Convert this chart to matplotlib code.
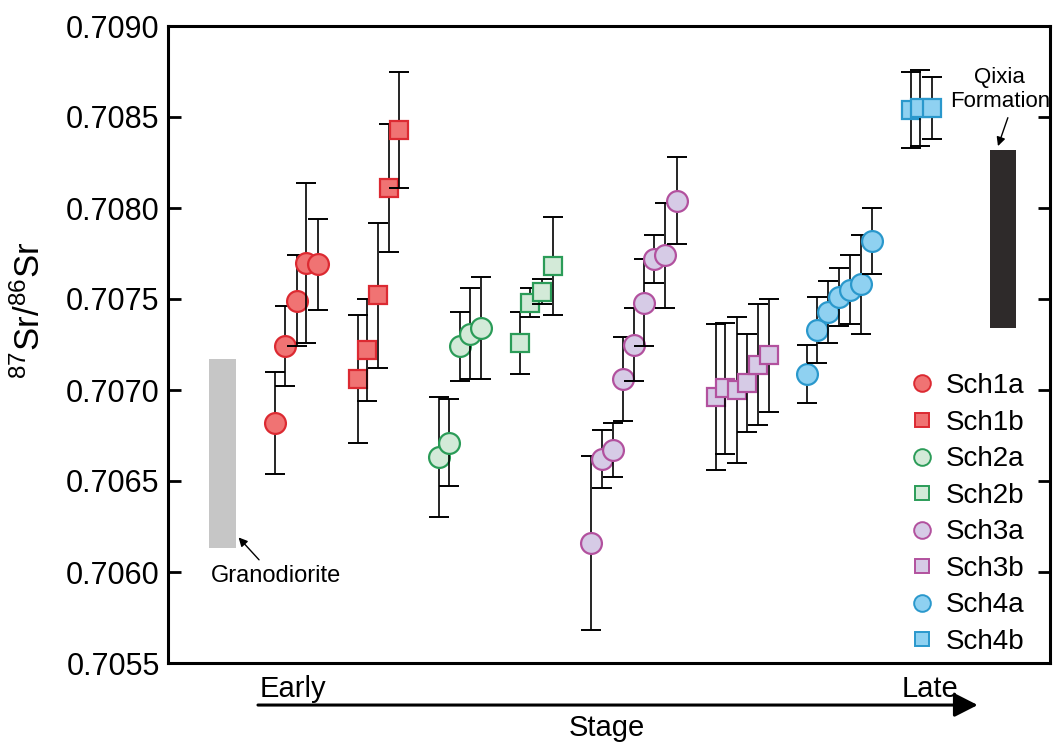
import matplotlib.pyplot as plt
from matplotlib.lines import Line2D

plt.rcParams['font.family'] = ['Liberation Sans', 'DejaVu Sans']
plt.rcParams['mathtext.default'] = 'regular'

# stage position (arbitrary units, early -> late), 87Sr/86Sr and 2 sigma error
sch1a_x = [12.1, 13.3, 14.6, 15.7, 17.0]
sch1a_y = [0.70682, 0.70724, 0.70749, 0.70770, 0.70769]
sch1a_e = [0.00028, 0.00022, 0.00025, 0.00044, 0.00025]

sch1b_x = [21.5, 22.6, 23.8, 25.1, 26.2]
sch1b_y = [0.70706, 0.70722, 0.70752, 0.70811, 0.70843]
sch1b_e = [0.00035, 0.00028, 0.00040, 0.00035, 0.00032]

sch2a_x = [30.7, 31.9, 33.1, 34.2, 35.5]
sch2a_y = [0.70663, 0.70671, 0.70724, 0.70731, 0.70734]
sch2a_e = [0.00033, 0.00024, 0.00019, 0.00025, 0.00028]

sch2b_x = [39.9, 41.0, 42.4, 43.6]
sch2b_y = [0.70726, 0.70748, 0.70754, 0.70768]
sch2b_e = [0.00017, 0.00008, 0.00007, 0.00027]

sch3a_x = [48.0, 49.2, 50.4, 51.6, 52.8, 54.0, 55.1, 56.4, 57.7]
sch3a_y = [0.70616, 0.70662, 0.70667, 0.70706, 0.70725, 0.70748, 0.70772, 0.70774, 0.70804]
sch3a_e = [0.00048, 0.00016, 0.00015, 0.00023, 0.00020, 0.00024, 0.00013, 0.00029, 0.00024]

sch3b_x = [62.1, 63.2, 64.5, 65.7, 66.9, 68.1]
sch3b_y = [0.70696, 0.70701, 0.70700, 0.70704, 0.70714, 0.70719]
sch3b_e = [0.00040, 0.00036, 0.00040, 0.00027, 0.00033, 0.00031]

sch4a_x = [72.5, 73.6, 74.8, 76.1, 77.3, 78.6, 79.8]
sch4a_y = [0.70709, 0.70733, 0.70743, 0.70751, 0.70755, 0.70758, 0.70782]
sch4a_e = [0.00016, 0.00018, 0.00017, 0.00016, 0.00019, 0.00027, 0.00018]

sch4b_x = [84.2, 85.3, 86.6]
sch4b_y = [0.70854, 0.70855, 0.70855]
sch4b_e = [0.00021, 0.00021, 0.00017]

# reference ranges
grano_x = [4.7, 7.7]
grano_y = [0.70613, 0.70717]
qixia_x = [93.2, 96.2]
qixia_y = [0.70734, 0.70832]

red = ('#f07373', '#dc2a32')
green = ('#d3ead8', '#2b9c58')
purple = ('#d6cbe6', '#b2519e')
blue = ('#8fd1f1', '#2a98cc')

groups = [
    ('Sch1a', sch1a_x, sch1a_y, sch1a_e, 'o', red),
    ('Sch1b', sch1b_x, sch1b_y, sch1b_e, 's', red),
    ('Sch2a', sch2a_x, sch2a_y, sch2a_e, 'o', green),
    ('Sch2b', sch2b_x, sch2b_y, sch2b_e, 's', green),
    ('Sch3a', sch3a_x, sch3a_y, sch3a_e, 'o', purple),
    ('Sch3b', sch3b_x, sch3b_y, sch3b_e, 's', purple),
    ('Sch4a', sch4a_x, sch4a_y, sch4a_e, 'o', blue),
    ('Sch4b', sch4b_x, sch4b_y, sch4b_e, 's', blue),
]

fig = plt.figure(figsize=(10.57, 7.45), dpi=100)
ax = fig.add_axes([168 / 1057, 82 / 745, 882 / 1057, 637 / 745])

# each point drawn on its own so later error bars sit over earlier symbols
z = 3
handles = []
for name, xs, ys, es, mk, (fc, ec) in groups:
    ms = 15 if mk == 'o' else 13
    for x, y, e in zip(xs, ys, es):
        ax.errorbar(x, y, yerr=e, fmt='none', ecolor='black', elinewidth=1.2,
                    capsize=7, capthick=1.4, zorder=z)
        ax.plot(x, y, marker=mk, ms=ms, mfc=fc, mec=ec, mew=1.6, ls='none', zorder=z + 1)
        z += 2
    handles.append(Line2D([], [], marker=mk, ls='none', ms=12 if mk == 'o' else 10.5,
                          mfc=fc, mec=ec, mew=1.4, label=name))

ax.fill_between(grano_x, grano_y[0], grano_y[1], color='#c6c6c6', lw=0, zorder=1)
ax.fill_between(qixia_x, qixia_y[0], qixia_y[1], color='#2e2a2a', lw=0, zorder=1)

ax.annotate('Granodiorite', xy=(8.0, 0.70619), xytext=(12.3, 0.70598),
            ha='center', va='center', fontsize=17,
            arrowprops=dict(arrowstyle='-|>', color='black', lw=1.0,
                            shrinkB=0, mutation_scale=13, relpos=(0.4, 1.0)))
ax.annotate('Qixia\nFormation', xy=(94.1, 0.70834), xytext=(94.3, 0.70865),
            ha='center', va='center', fontsize=16, annotation_clip=False,
            arrowprops=dict(arrowstyle='-|>', color='black', lw=1.0,
                            shrinkB=0, mutation_scale=13, relpos=(0.6, 0.0)))

ax.set_xlim(0, 100)
ax.set_ylim(0.7055, 0.7090)
ax.set_yticks([0.7055, 0.7060, 0.7065, 0.7070, 0.7075, 0.7080, 0.7085, 0.7090])
ax.yaxis.set_major_formatter(plt.FormatStrFormatter('%.4f'))
ax.set_xticks([])
ax.tick_params(axis='y', direction='in', length=9, width=2, labelsize=22, pad=6,
               right=True)
for sp in ax.spines.values():
    sp.set_linewidth(2.2)

ax.legend(handles=handles, loc='lower right', bbox_to_anchor=(0.993, -0.018),
          frameon=False, fontsize=20, handlelength=0.9, handletextpad=0.4,
          labelspacing=0.38, borderpad=0.2)

fig.text(30 / 1057, 1 - 310 / 745, '$^{87}$Sr/$^{86}$Sr', rotation=90,
         ha='center', va='center', fontsize=25)

# early -> late stage arrow under the axis
trans = ax.get_xaxis_transform()
ax.annotate('', xy=(91.8, -0.066), xytext=(10.2, -0.066), xycoords=trans,
            textcoords=trans, annotation_clip=False,
            arrowprops=dict(arrowstyle='-|>,head_width=0.28,head_length=0.55',
                            color='black', lw=2.2, mutation_scale=26,
                            shrinkA=0, shrinkB=0))
ax.text(10.4, -0.053, 'Early', transform=trans, ha='left', va='baseline', fontsize=21)
ax.text(89.6, -0.053, 'Late', transform=trans, ha='right', va='baseline', fontsize=21)
ax.text(49.8, -0.08, 'Stage', transform=trans, ha='center', va='top', fontsize=21)

fig.savefig('out.png', dpi=100)
